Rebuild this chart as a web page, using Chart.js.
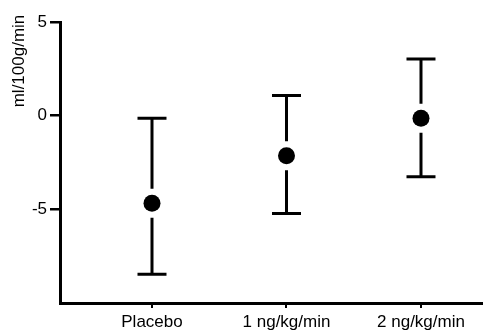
<!DOCTYPE html>
<html>
<head>
<meta charset="utf-8">
<script src="https://cdn.jsdelivr.net/npm/chart.js@4/dist/chart.umd.min.js"></script>
<style>
  html, body { margin: 0; padding: 0; background: #fff; overflow: hidden; }
  #wrap { width: 483px; height: 333px; }
</style>
</head>
<body>
<div id="wrap"><canvas id="chart"></canvas></div>
<script>
// data
var categories = ['Placebo', '1 ng/kg/min', '2 ng/kg/min'];
var means = [-4.68, -2.14, -0.14];
var upper = [-0.14, 1.07, 3.02];
var lower = [-8.47, -5.22, -3.26];
var yTicks = [-5, 0, 5];
var yTitle = 'ml/100g/min';

var FONT = "'Liberation Sans', Arial, sans-serif";

var points = [];
for (var i = 0; i < categories.length; i++) {
    points.push({ x: i + 1, y: means[i] });
}

// error bars with caps, broken around the dot
var errorBars = {
    id: 'errorBars',
    afterDatasetsDraw: function(chart) {
        var ctx = chart.ctx;
        var xs = chart.scales.x, ys = chart.scales.y;
        var cap = 14.5, gap = 14.5;
        ctx.save();
        ctx.strokeStyle = '#000';
        ctx.lineWidth = 3;
        for (var i = 0; i < categories.length; i++) {
            var px = xs.getPixelForValue(i + 1);
            var pm = ys.getPixelForValue(means[i]);
            var pu = ys.getPixelForValue(upper[i]);
            var pl = ys.getPixelForValue(lower[i]);
            ctx.beginPath();
            ctx.moveTo(px, pu); ctx.lineTo(px, pm - gap);
            ctx.moveTo(px, pm + gap); ctx.lineTo(px, pl);
            ctx.moveTo(px - cap, pu); ctx.lineTo(px + cap, pu);
            ctx.moveTo(px - cap, pl); ctx.lineTo(px + cap, pl);
            ctx.stroke();
        }
        ctx.restore();
    }
};

var axisTitle = {
    id: 'axisTitle',
    afterDraw: function(chart) {
        var ctx = chart.ctx;
        ctx.save();
        ctx.translate(19, 61);
        ctx.rotate(-Math.PI / 2);
        ctx.font = '17px ' + FONT;
        ctx.fillStyle = '#000';
        ctx.textAlign = 'center';
        ctx.textBaseline = 'middle';
        ctx.fillText(yTitle, 0, 0);
        ctx.restore();
    }
};

var ctx = document.getElementById('chart').getContext('2d');
var myChart = new Chart(ctx, {
    type: 'scatter',
    data: {
        datasets: [{
            data: points,
            backgroundColor: '#000',
            borderColor: '#000',
            borderWidth: 0,
            pointRadius: 8.5,
            pointHoverRadius: 8.5,
            clip: false
        }]
    },
    options: {
        responsive: true,
        maintainAspectRatio: false,
        animation: false,
        events: [],
        layout: { autoPadding: false, padding: { top: 22, right: 0, bottom: 0, left: 0 } },
        plugins: {
            legend: { display: false },
            tooltip: { enabled: false }
        },
        scales: {
            x: {
                type: 'linear',
                min: 0.316,
                max: 3.461,
                afterBuildTicks: function(scale) {
                    scale.ticks = categories.map(function(c, i) { return { value: i + 1 }; });
                },
                afterFit: function(scale) {
                    scale.height = 30;
                    scale.paddingLeft = 0;
                    scale.paddingRight = 0;
                },
                ticks: {
                    autoSkip: false,
                    maxRotation: 0,
                    padding: 4,
                    color: '#000',
                    font: { family: FONT, size: 17 },
                    callback: function(v) { return categories[v - 1]; }
                },
                grid: { drawOnChartArea: false, color: '#000', lineWidth: 2, tickLength: 5 },
                border: { color: '#000', width: 3 }
            },
            y: {
                min: -10,
                max: 5,
                afterBuildTicks: function(scale) {
                    scale.ticks = yTicks.map(function(v) { return { value: v }; });
                },
                afterFit: function(scale) {
                    scale.width = 60;
                    scale.paddingTop = 0;
                    scale.paddingBottom = 0;
                },
                ticks: {
                    padding: 3,
                    color: '#000',
                    font: { family: FONT, size: 17 }
                },
                grid: { drawOnChartArea: false, color: '#000', lineWidth: 2.5, tickLength: 10 },
                border: { color: '#000', width: 3 }
            }
        }
    },
    plugins: [errorBars, axisTitle]
});
</script>
</body>
</html>
